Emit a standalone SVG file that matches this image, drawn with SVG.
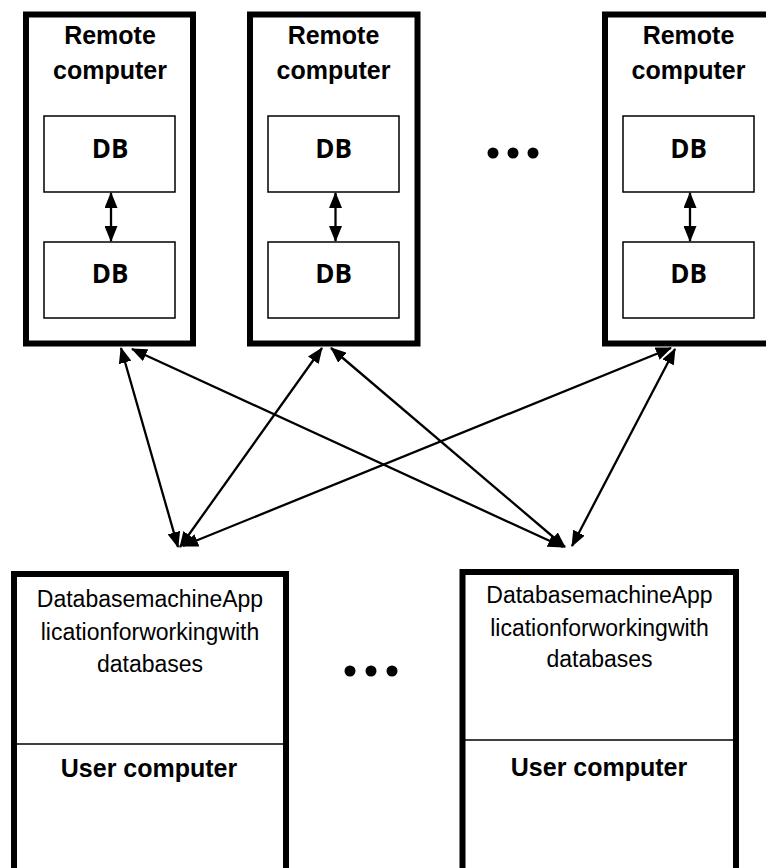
<svg xmlns="http://www.w3.org/2000/svg" width="766" height="868" viewBox="0 0 766 868">
<style>
.outer{fill:#fff;stroke:#000;stroke-width:6}
.inner{fill:#fff;stroke:#000;stroke-width:1.5}
.div{stroke:#000;stroke-width:1.5}
.title{font-family:"Liberation Sans",Arial,sans-serif;font-weight:bold;font-size:25px;fill:#000;text-anchor:middle}
.db{font-family:"Open Sans","Noto Sans",sans-serif;font-weight:bold;font-size:26px;fill:#000;text-anchor:middle}
.desc{font-family:"Liberation Sans",Arial,sans-serif;font-size:23px;fill:#000;text-anchor:middle}
.conn{stroke:#000;stroke-width:2.3;fill:none;marker-start:url(#ah);marker-end:url(#ah)}
.dot{fill:#000}
</style>
<defs>
<marker id="ah" viewBox="0 0 16 13" refX="15" refY="6.5" markerWidth="16" markerHeight="13" markerUnits="userSpaceOnUse" orient="auto-start-reverse">
<path d="M0,0 L16,6.5 L0,13 z" fill="#000"/>
</marker>
</defs>
<rect width="766" height="868" fill="#fff"/>

<g id="remote1">
<rect class="outer" x="26" y="14.5" width="167" height="329"/>
<text class="title" x="110" y="44">Remote</text>
<text class="title" x="110" y="79">computer</text>
<rect class="inner" x="44" y="116" width="131" height="76"/>
<text class="db" x="110" y="158">DB</text>
<rect class="inner" x="44" y="242" width="131" height="76"/>
<text class="db" x="110" y="283">DB</text>
</g>

<g id="remote2">
<rect class="outer" x="250" y="14.5" width="167.5" height="329"/>
<text class="title" x="333.5" y="44">Remote</text>
<text class="title" x="333.5" y="79">computer</text>
<rect class="inner" x="268" y="116" width="131" height="76"/>
<text class="db" x="333.5" y="158">DB</text>
<rect class="inner" x="268" y="242" width="131" height="76"/>
<text class="db" x="333.5" y="283">DB</text>
</g>

<g id="remote3">
<rect class="outer" x="605" y="14.5" width="167" height="329"/>
<text class="title" x="688.5" y="44">Remote</text>
<text class="title" x="688.5" y="79">computer</text>
<rect class="inner" x="623" y="116" width="131" height="76"/>
<text class="db" x="688.5" y="158">DB</text>
<rect class="inner" x="623" y="242" width="131" height="76"/>
<text class="db" x="688.5" y="283">DB</text>
</g>

<g id="ellipsis-top">
<circle class="dot" cx="493" cy="153" r="5.5"/>
<circle class="dot" cx="513" cy="153" r="5.5"/>
<circle class="dot" cx="533" cy="153" r="5.5"/>
</g>

<g id="user1">
<rect class="outer" x="14" y="574" width="272" height="310"/>
<line class="div" x1="14" y1="744" x2="286" y2="744"/>
<text class="desc" x="150" y="607">DatabasemachineApp</text>
<text class="desc" x="150" y="640">licationforworkingwith</text>
<text class="desc" x="150" y="672">databases</text>
<text class="title" x="149" y="777">User computer</text>
</g>

<g id="ellipsis-bottom">
<circle class="dot" cx="350" cy="671" r="5.5"/>
<circle class="dot" cx="371" cy="671" r="5.5"/>
<circle class="dot" cx="392" cy="671" r="5.5"/>
</g>

<g id="user2">
<rect class="outer" x="462.5" y="572" width="273.5" height="310"/>
<line class="div" x1="462.5" y1="740" x2="736" y2="740"/>
<text class="desc" x="599.5" y="603">DatabasemachineApp</text>
<text class="desc" x="599.5" y="636">licationforworkingwith</text>
<text class="desc" x="599.5" y="667">databases</text>
<text class="title" x="599" y="776">User computer</text>
</g>

<g id="connectors">
<line class="conn" x1="111" y1="193" x2="111" y2="241"/>
<line class="conn" x1="335.5" y1="193" x2="335.5" y2="241"/>
<line class="conn" x1="690" y1="193" x2="690" y2="241"/>
<line class="conn" x1="121" y1="348" x2="178" y2="547"/>
<line class="conn" x1="132" y1="349" x2="563" y2="547"/>
<line class="conn" x1="322" y1="348" x2="180" y2="547"/>
<line class="conn" x1="331" y1="348" x2="565" y2="547"/>
<line class="conn" x1="671" y1="348" x2="183" y2="546"/>
<line class="conn" x1="675" y1="349" x2="572" y2="546"/>
</g>
</svg>
